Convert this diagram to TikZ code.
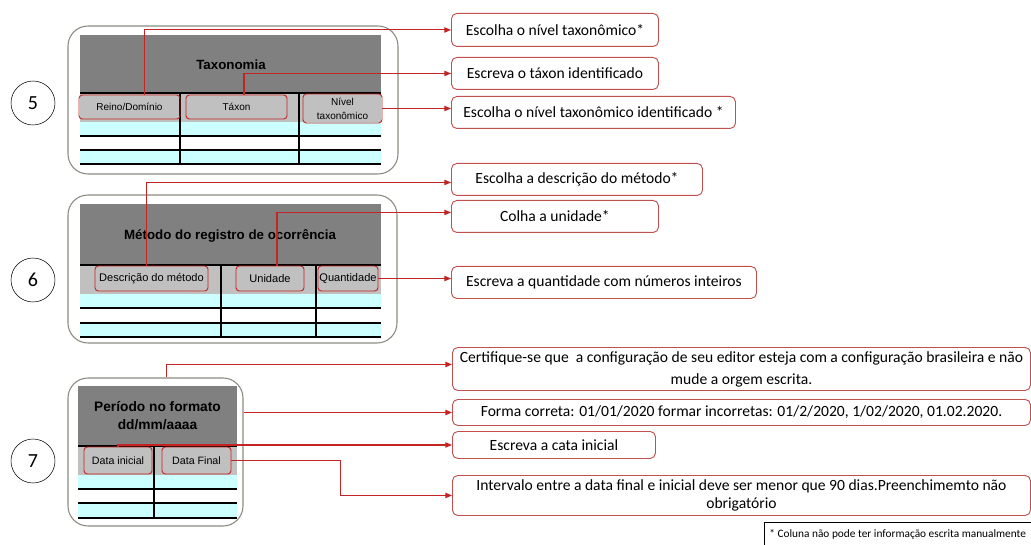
\documentclass[tikz,border=0pt]{standalone}
\usepackage{fontspec}
\setmainfont{Carlito}
\newfontfamily\arialfont{Liberation Sans}
\usetikzlibrary{arrows.meta}
\definecolor{linered}{RGB}{196,36,36}
\definecolor{boxred}{RGB}{192,80,77}
\definecolor{framegray}{RGB}{140,138,128}
\definecolor{headdark}{RGB}{128,128,128}
\definecolor{headlight}{RGB}{192,192,192}
\definecolor{rowcyan}{RGB}{204,255,255}
\tikzset{
  hint/.style={draw=boxred, line width=0.7pt, rounded corners=4pt, align=center, inner sep=2pt, anchor=north west, font=\fontsize{11.7}{13.5}\selectfont},
  colhead/.style={draw=linered, line width=0.7pt, rounded corners=2.5pt, align=center, inner sep=0pt},
  panel/.style={draw=framegray, line width=0.8pt, rounded corners=15pt, fill=white},
  num/.style={draw, circle, minimum size=33pt, inner sep=0pt, font=\fontsize{15}{15}\selectfont},
  conn/.style={draw=linered, line width=0.8pt, -{Triangle[length=5pt,width=4pt]}},
  grid/.style={line width=0.9pt},
}
\begin{document}
\begin{tikzpicture}[x=0.75pt, y=-0.75pt]
\useasboundingbox (0,0) rectangle (1031,545);

% 5 - taxonomia
\node[num] (c5) at (33,103) {5};
\node[panel, minimum width=247.5pt, minimum height=111pt] (p5) at (233,100) {};
\fill[headdark] (80,35) rectangle (381,93);
\fill[headlight] (80,93) rectangle (381,122);
\fill[rowcyan] (80,122) rectangle (381,136);
\fill[rowcyan] (80,150) rectangle (381,164);
\foreach \y in {93,136,150,164} \draw[grid] (80,\y) -- (381,\y);
\foreach \x in {180,299} \draw[grid] (\x,93) -- (\x,164);
\node[font=\arialfont\bfseries\fontsize{10}{12}\selectfont] (t5) at (231,65) {Taxonomia};
\node[colhead, minimum width=75.75pt, minimum height=18pt, font=\arialfont\fontsize{7.5}{9}\selectfont] (reino) at (129.5,107) {Reino/Domínio};
\node[colhead, minimum width=75.75pt, minimum height=18pt, font=\arialfont\fontsize{7.5}{9}\selectfont] (taxon) at (236.5,107) {Táxon};
\node[colhead, minimum width=59.25pt, minimum height=21.75pt, font=\arialfont\fontsize{7.5}{10.5}\selectfont] (nivel) at (342.5,108.5) {Nível\\taxonômico};

% 6 - metodo
\node[num] (c6) at (33,280) {6};
\node[panel, minimum width=246.75pt, minimum height=111pt] (p6) at (232.5,269) {};
\fill[headdark] (80,204) rectangle (381,265);
\fill[headlight] (80,265) rectangle (381,294);
\fill[rowcyan] (80,294) rectangle (381,308);
\fill[rowcyan] (80,323) rectangle (381,337);
\foreach \y in {265,308,323,337} \draw[grid] (80,\y) -- (381,\y);
\foreach \x in {221,316} \draw[grid] (\x,265) -- (\x,337);
\node[font=\arialfont\bfseries\fontsize{10}{12}\selectfont] (t6) at (230,236) {Método do registro de ocorrência};
\node[colhead, minimum width=84.75pt, minimum height=18.75pt, font=\arialfont\fontsize{8.3}{10}\selectfont] (desc) at (151.5,278.5) {Descrição do método};
\node[colhead, minimum width=51pt, minimum height=18.75pt, font=\arialfont\fontsize{8.3}{10}\selectfont] (unid) at (270,278.5) {Unidade};
\node[colhead, minimum width=45pt, minimum height=18.75pt, font=\arialfont\fontsize{8.3}{10}\selectfont] (quant) at (348,278.5) {Quantidade};

% 7 - periodo
\node[num] (c7) at (33,461) {7};
\node[panel, minimum width=131.25pt, minimum height=111pt] (p7) at (155.5,452) {};
\fill[headdark] (78,386) rectangle (237,446);
\fill[headlight] (78,446) rectangle (237,475);
\fill[rowcyan] (78,475) rectangle (237,489);
\fill[rowcyan] (78,503) rectangle (237,518);
\foreach \y in {446,489,503,518} \draw[grid] (78,\y) -- (237,\y);
\draw[grid] (154,446) -- (154,518);
\node[align=center, font=\arialfont\bfseries\fontsize{10.3}{13.5}\selectfont] (t7) at (157.5,416) {Período no formato\\dd/mm/aaaa};
\node[colhead, minimum width=51pt, minimum height=20.25pt, font=\arialfont\fontsize{8}{10}\selectfont] (dini) at (118,460.5) {Data inicial};
\node[colhead, minimum width=51.75pt, minimum height=20.25pt, font=\arialfont\fontsize{8}{10}\selectfont] (dfin) at (196.5,460.5) {Data Final};

% caixas de instrucoes
\node[hint, minimum width=155.25pt, minimum height=24.75pt] (b1) at (451,13) {Escolha o nível taxonômico*};
\node[hint, minimum width=155.25pt, minimum height=24pt] (b2) at (451,57) {Escreva o táxon identificado};
\node[hint, minimum width=213pt, minimum height=24pt] (b3) at (451,96) {Escolha o nível taxonômico identificado *};
\node[hint, minimum width=188.25pt, minimum height=24pt] (b4) at (451,163) {Escolha a descrição do método*};
\node[hint, minimum width=155.25pt, minimum height=24pt] (b5) at (451,200) {Colha a unidade*};
\node[hint, minimum width=228.75pt, minimum height=24pt] (b6) at (451,266) {Escreva a quantidade com números inteiros};
\node[hint, minimum width=433.5pt, minimum height=32.25pt, font=\fontsize{11.7}{16.5}\selectfont] (b7) at (452,347) {Certifique-se que \ a configuração de seu editor esteja com a configuração brasileira e não\\mude a orgem escrita.};
\node[hint, minimum width=433.5pt, minimum height=19.5pt] (b8) at (452,399) {Forma correta: 01/01/2020 formar incorretas: 01/2/2020, 1/02/2020, 01.02.2020.};
\node[hint, minimum width=152.25pt, minimum height=20.25pt] (b9) at (452,431) {Escreva a cata inicial};
\node[hint, minimum width=433.5pt, minimum height=30pt] (b10) at (452,475) {Intervalo entre a data final e inicial deve ser menor que 90 dias.Preenchimemto não\\obrigatório};
\node[draw, line width=0.6pt, anchor=north west, minimum width=200pt, minimum height=18pt, inner sep=2pt, font=\fontsize{8.5}{10}\selectfont] (note) at (764,522) {* Coluna não pode ter informação escrita manualmente};

% ligacoes
\draw[conn] ([xshift=10.9pt]reino.north) |- (b1.west);
\draw[conn] ([xshift=5.6pt]taxon.north) |- (b2.west);
\draw[conn] (nivel.east) -- (nivel.east -| b3.west);
\draw[conn] ([xshift=-4.1pt]desc.north) |- ([yshift=-2.25pt]b4.west);
\draw[conn] ([xshift=5.25pt]unid.north) |- ([yshift=3pt]b5.west);
\draw[conn] (quant.east) -- (quant.east -| b6.west);
\draw[conn] ([xshift=7.9pt]p7.north) |- ([yshift=3.4pt]b7.west);
\draw[conn] (p7.east |- b8.west) -- (b8.west);
\draw[conn] (dini.north) |- (b9.west);
\draw[conn] (dfin.east) -- ++(109,0) |- (b10.west);
\end{tikzpicture}
\end{document}
